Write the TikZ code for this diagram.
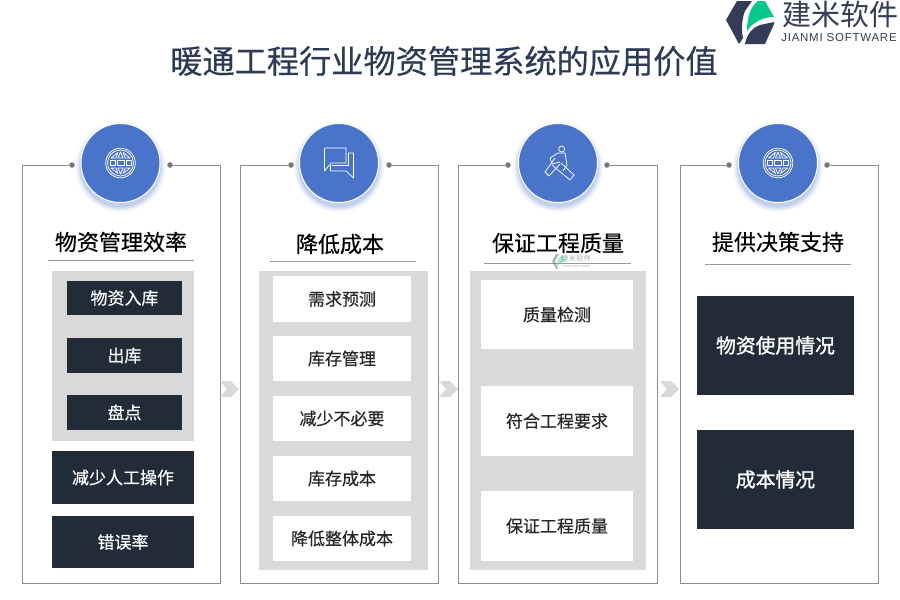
\documentclass[tikz,border=0pt]{standalone}
\usepackage{fontspec}
\setmainfont{Liberation Sans}
\newfontfamily\latinspaced[LetterSpace=6.5]{Liberation Sans}
\newfontfamily\cjk[FakeBold=0.35]{Noto Sans CJK SC}
\newfontfamily\cjkplain{Noto Sans CJK SC}
\newfontfamily\cjkbold[FakeBold=1.3]{Noto Sans CJK SC}
\definecolor{navy}{HTML}{222B38}
\definecolor{titlec}{HTML}{2C3A55}
\definecolor{blue1}{HTML}{4A74C9}
\definecolor{gray1}{HTML}{D9D9D9}
\definecolor{frame}{HTML}{8C8C8C}
\definecolor{logoc}{HTML}{343C58}
\definecolor{logog}{HTML}{05C98A}
\tikzset{
  every node/.style={inner sep=0pt,outer sep=0pt},
  title/.style={font=\cjk\fontsize{32.2}{32}\selectfont,text=titlec},
  head/.style={font=\cjk\fontsize{22}{22}\selectfont,text=black},
  lbl/.style={font=\cjk\fontsize{17}{17}\selectfont},
  big/.style={font=\cjkbold\fontsize{19.8}{20}\selectfont,text=white},
  darkbox/.style={fill=navy,text=white,lbl},
  whitebox/.style={fill=white,text=black!85,lbl},
  bar/.style={fill=gray1},
  chev/.style={fill=gray1},
  framel/.style={draw=frame,line width=.9pt},
  dot/.style={circle,fill=frame!85!black,minimum size=5.5pt},
  rulel/.style={draw=black!40,line width=.7pt},
  badge/.style={circle,fill=blue1,draw=white,line width=1pt,minimum size=79pt},
  icon/.style={draw=white,line width=.75pt,line join=round,fill=none},
}
\newcommand{\rbox}[7]{% name,style,x1,y1,x2,y2,text
  \node[#2,minimum width=#5pt-#3pt,minimum height=#6pt-#4pt,anchor=center] (#1) at ({(#3+#5)/2},{(#4+#6)/2}) {#7};}
\newcommand{\shadowdisc}[2]{%
  \foreach \rr/\op in {45/.05,43.5/.07,42/.10,40.5/.14}
    {\fill[blue1,opacity=\op] (#1,#2+4) circle[radius=\rr];}}
\newcommand{\panel}[6]{% id x1 x2 xc dotL dotR
  \node[dot] (#1L) at (#5,165) {};
  \node[dot] (#1R) at (#6,165) {};
  \coordinate (#1tl) at (#2,165);
  \coordinate (#1bl) at (#2,583);
  \coordinate (#1br) at (#3,583);
  \coordinate (#1tr) at (#3,165);
  \draw[framel] (#1L) -- (#1tl) -- (#1bl) -- (#1br) -- (#1tr) -- (#1R);
  \shadowdisc{#4}{163}
  \node[badge] (#1c) at (#4,163) {};
}
\newcommand{\globe}[2]{%
  \begin{scope}[shift={(#1,#2)},icon]
    \draw (0,0) circle[radius=14.8];
    \draw (0,0) circle[radius=13];
    \draw (-10.5,-2.8) rectangle (-5.5,2.8) (-3.4,-2.8) rectangle (3.4,2.8) (5.5,-2.8) rectangle (10.5,2.8);
    \draw (-2.6,-5) -- (2.6,-5) -- (0,-11) -- cycle;
    \draw (-2.6,5) -- (2.6,5) -- (0,11) -- cycle;
    \draw (-9.5,-5) -- (-4.6,-5) -- (-2.6,-10.5) -- cycle;
    \draw (9.5,-5) -- (4.6,-5) -- (2.6,-10.5) -- cycle;
    \draw (-9.5,5) -- (-4.6,5) -- (-2.6,10.5) -- cycle;
    \draw (9.5,5) -- (4.6,5) -- (2.6,10.5) -- cycle;
  \end{scope}}
\begin{document}
\begin{tikzpicture}[x=1pt,y=-1pt]
\useasboundingbox (0,0) rectangle (900,600);
\fill[white] (0,0) rectangle (900,600);

% title
\node[title] (ttl) at (444,61) {暖通工程行业物资管理系统的应用价值};

% logo
\fill[logoc] (726,20) -- (737,1) -- (752,1) -- (745,11) .. controls (742,18) and (741,30) .. (743,38) -- (739,44) -- cycle;
\fill[logoc] (745,44) .. controls (747,34) and (752,28) .. (760,25) -- (774,22) -- (774,24) -- (765,44) -- cycle;
\fill[logog] (747,31) .. controls (747,18) and (750,7) .. (758,1) -- (765,1) -- (774,17) .. controls (763,17) and (753,22) .. (747,31) -- cycle;
\node[font=\cjkplain\fontsize{29}{29}\selectfont,text=logoc,anchor=center] (lg1) at (840,14) {建米软件};
\node[font=\latinspaced\fontsize{11.5}{12}\selectfont,text=logoc,anchor=center] (lg2) at (839,38) {JIANMI SOFTWARE};

% panels
\panel{p}{22}{220}{120.5}{72}{170}
\panel{q}{240}{438}{339}{291}{389}
\panel{r}{458.5}{657}{558}{508}{607}
\panel{s}{680}{878}{778}{729}{827}

% icons
\globe{120.5}{163}
\globe{778}{163}
\begin{scope}[icon]
  \draw (325,148) -- (346,148) -- (346,163) -- (331,163) -- (324.5,171) -- (324.5,149) -- cycle;
  \draw (348,153) -- (353.5,153) -- (353.5,178) -- (346,171) -- (330.5,171) -- (330.5,165);
  \draw (348,153) -- (348,165) -- (332,165);
\end{scope}
\begin{scope}[icon]
  \draw (561.7,149) circle[radius=3];
  \draw (558,153) -- (565,153) -- (567,165) -- (563,171);
  \draw (558,153) -- (550,158) -- (552,164) -- (560,162);
  \draw (552,165) -- (570,180) -- (574,175) -- (561,163);
  \draw (555,158) -- (545,172) -- (549,176) -- (560,164);
\end{scope}

% headings
\node[head] (h1) at (121,242) {物资管理效率};
\node[head] (h2) at (340,244) {降低成本};
\node[head] (h3) at (558,243) {保证工程质量};
\node[head] (h4) at (778,242) {提供决策支持};
\coordinate (u1a) at (48,260.5); \coordinate (u1b) at (194,260.5);
\coordinate (u2a) at (270,261.5); \coordinate (u2b) at (416,261.5);
\coordinate (u3a) at (484,263.5); \coordinate (u3b) at (631,263.5);
\coordinate (u4a) at (705,264.5); \coordinate (u4b) at (851,264.5);
\draw[rulel] (u1a) -- (u1b);
\draw[rulel] (u2a) -- (u2b);
\draw[rulel] (u3a) -- (u3b);
\draw[rulel] (u4a) -- (u4b);

% panel 1
\rbox{g1}{bar}{52}{271}{194}{441}{}
\rbox{a1}{darkbox}{67}{281}{182}{315}{物资入库}
\rbox{a2}{darkbox}{67}{338}{182}{373}{出库}
\rbox{a3}{darkbox}{67}{395}{182}{430}{盘点}
\rbox{a4}{darkbox}{52}{451}{194}{504}{减少人工操作}
\rbox{a5}{darkbox}{52}{516}{194}{568}{错误率}

% panel 2
\rbox{g2}{bar}{259}{271}{428}{570}{}
\rbox{b1}{whitebox}{273}{276}{411}{322}{需求预测}
\rbox{b2}{whitebox}{273}{336}{411}{381}{库存管理}
\rbox{b3}{whitebox}{273}{396}{411}{441}{减少不必要}
\rbox{b4}{whitebox}{273}{456}{411}{501}{库存成本}
\rbox{b5}{whitebox}{273}{516}{411}{561}{降低整体成本}

% panel 3
\rbox{g3}{bar}{470}{271}{646}{570}{}
\rbox{c1}{whitebox}{481}{280}{633}{349}{质量检测}
\rbox{c2}{whitebox}{481}{386}{633}{456}{符合工程要求}
\rbox{c3}{whitebox}{481}{491}{633}{561}{保证工程质量}

% watermark (sits over the rule and the grey bar)
\begin{scope}[opacity=.55]
  \fill[logoc!70] (556,254) -- (552,261) -- (556,269) -- (558,269) -- (555,261) -- (559,254) -- cycle;
  \fill[logog!70] (557,266) .. controls (557,260) and (559,256) .. (563,255) -- (565,261) .. controls (562,262) and (559,264) .. (557,266) -- cycle;
  \node[font=\cjkplain\fontsize{7.5}{8}\selectfont,text=black!55] (wm1) at (576,259) {建米软件};
  \node[font=\fontsize{3}{3}\selectfont,text=black!55] (wm2) at (576,266) {JIANMI SOFTWARE};
\end{scope}

% panel 4
\rbox{d1}{darkbox,big}{697}{296}{854}{395}{物资使用情况}
\rbox{d2}{darkbox,big}{697}{430}{854}{529}{成本情况}

% chevrons
\foreach \xx in {220,439,660}{
  \fill[chev] (\xx,381) -- (\xx+11,381) -- (\xx+19,389) -- (\xx+11,397) -- (\xx,397) -- (\xx+7,389) -- cycle;
}
\end{tikzpicture}
\end{document}
